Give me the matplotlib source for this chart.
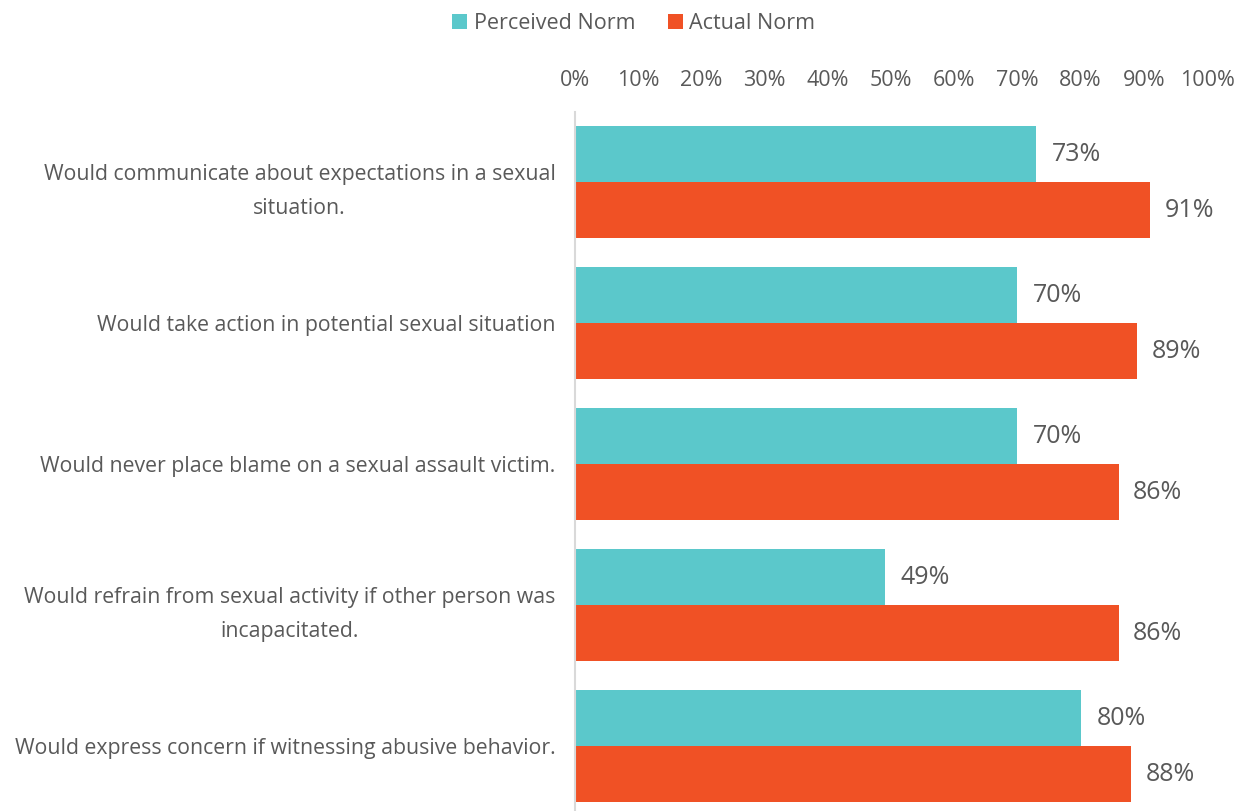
import numpy as np
import matplotlib.pyplot as plt

plt.rcParams['font.family'] = ['Open Sans', 'DejaVu Sans']

categories = ['Would communicate about expectations in a sexual\nsituation.',
              'Would take action in potential sexual situation',
              'Would never place blame on a sexual assault victim.',
              'Would refrain from sexual activity if other person was\nincapacitated.',
              'Would express concern if witnessing abusive behavior.']
perceived = [73, 70, 70, 49, 80]
actual = [91, 89, 86, 86, 88]
ticks = np.arange(0, 101, 10)

teal = '#5BC8CB'
orange = '#F05125'
grey = '#595959'

fig = plt.figure(figsize=(12.4, 8.11), dpi=100)
ax = fig.add_axes([0.4637, -0.0068, 0.5097, 0.8693])

y = np.arange(len(categories))
h = 0.397
ax.barh(y - h / 2, perceived, height=h, color=teal, label='Perceived Norm')
ax.barh(y + h / 2, actual, height=h, color=orange, label='Actual Norm')

for i in range(len(categories)):
    ax.text(perceived[i] + 2.5, y[i] - h / 2, '%d%%' % perceived[i], va='center', ha='left',
            fontsize=18, color=grey)
    ax.text(actual[i] + 2.3, y[i] + h / 2, '%d%%' % actual[i], va='center', ha='left',
            fontsize=18, color=grey)

ax.set_xlim(0, 100)
ax.set_ylim(len(categories) - 0.5, -0.5)
ax.set_xticks(ticks)
ax.set_xticklabels(['%d%%' % t for t in ticks])
ax.xaxis.tick_top()
ax.tick_params(axis='x', length=0, pad=15, labelsize=15.5, labelcolor=grey)
ax.set_yticks(y)
ax.set_yticklabels(categories, multialignment='center', linespacing=1.83)
ax.tick_params(axis='y', length=0, pad=14, labelsize=15.3, labelcolor=grey)

for s in ['top', 'right', 'bottom']:
    ax.spines[s].set_visible(False)
ax.spines['left'].set_color('#D9D9D9')
ax.spines['left'].set_linewidth(1.5)

fig.legend(loc='upper center', bbox_to_anchor=(0.511, 1.008), ncol=2, frameon=False,
           fontsize=15.5, handlelength=0.7, handleheight=0.7, handletextpad=0.3,
           columnspacing=1.5, labelcolor=grey)

fig.savefig('out.png', dpi=100)
